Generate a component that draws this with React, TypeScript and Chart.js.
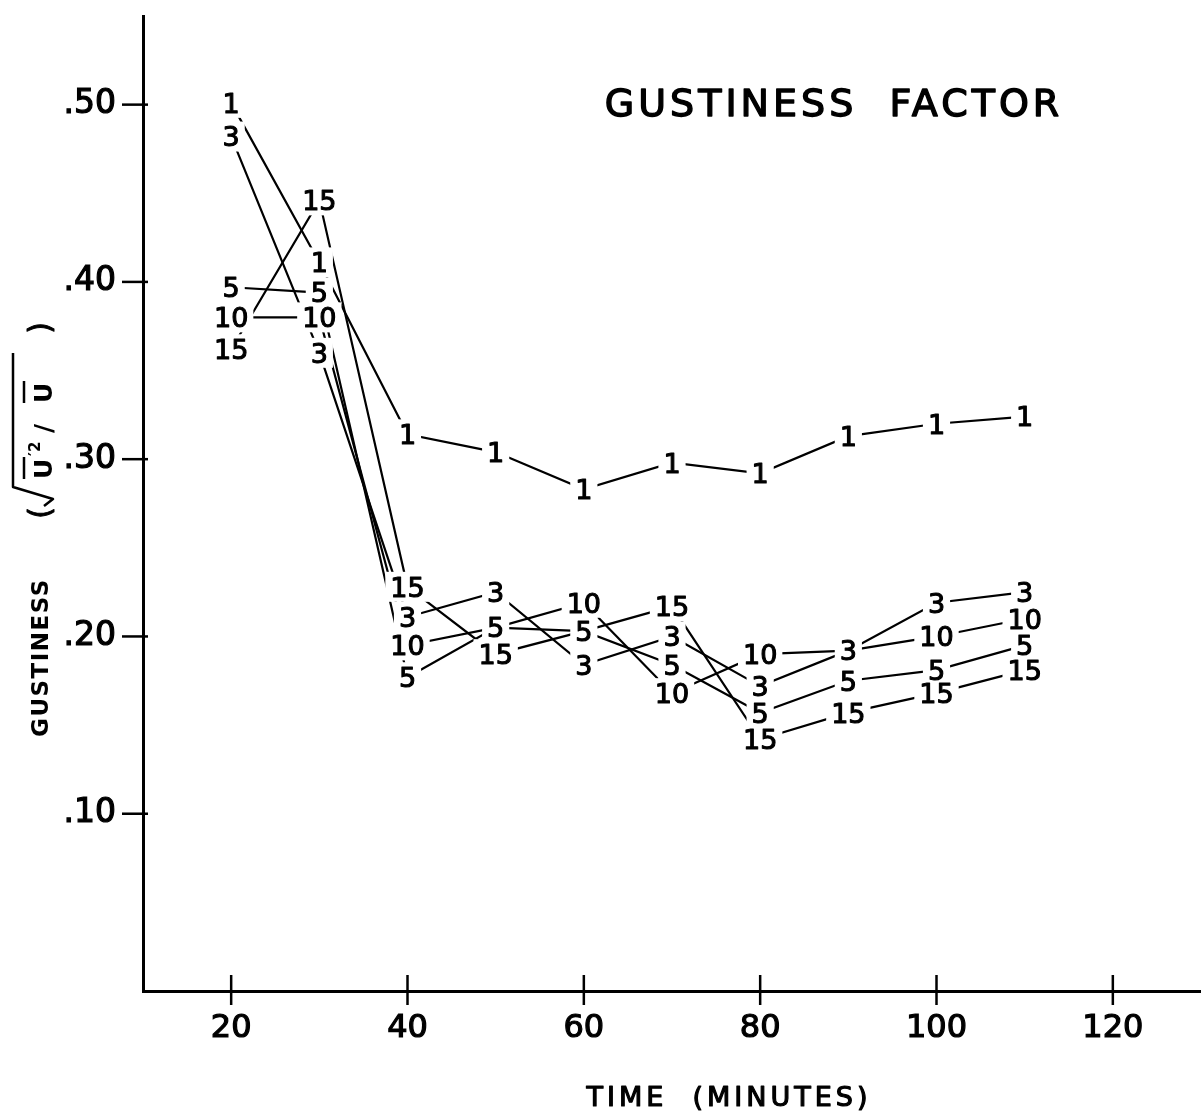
import React, { useEffect, useRef } from 'react';
import { Chart, registerables } from 'chart.js';

Chart.register(...registerables);

// ---- data ----
const times = [20, 30, 40, 50, 60, 70, 80, 90, 100, 110];
const seriesNames = ['1', '3', '5', '10', '15'];
const gust1 = [0.501, 0.411, 0.314, 0.304, 0.283, 0.298, 0.292, 0.313, 0.320, 0.324];
const gust3 = [0.482, 0.360, 0.211, 0.225, 0.184, 0.200, 0.172, 0.192, 0.219, 0.225];
const gust5 = [0.397, 0.394, 0.177, 0.205, 0.203, 0.184, 0.157, 0.175, 0.181, 0.195];
const gust10 = [0.380, 0.380, 0.195, 0.205, 0.219, 0.168, 0.190, 0.192, 0.200, 0.210];
const gust15 = [0.362, 0.446, 0.228, 0.190, 0.203, 0.217, 0.142, 0.157, 0.168, 0.181];
const seriesValues = [gust1, gust3, gust5, gust10, gust15];
// points whose number is hidden behind another series' number
const hiddenLabels: [string, number][] = [['10', 50], ['15', 60], ['10', 90]];

const xTicks = [20, 40, 60, 80, 100, 120];
const xTickLabels = ['20', '40', '60', '80', '100', '120'];
const yTicks = [0.1, 0.2, 0.3, 0.4, 0.5];
const yTickLabels = ['.10', '.20', '.30', '.40', '.50'];

const chartTitle = 'GUSTINESS  FACTOR';
const xTitle = 'TIME  (MINUTES)';
const yTitleWord = 'GUSTINESS';

const FONT = '"DejaVu Sans", sans-serif';

function heavyText(ctx: CanvasRenderingContext2D, t: string, x: number, y: number, w: number) {
  ctx.fillText(t, x, y);
  if (w > 0) {
    ctx.lineWidth = w;
    ctx.lineJoin = 'round';
    ctx.strokeText(t, x, y);
  }
}

const decorPlugin = {
  id: 'decor',
  afterDatasetsDraw(chart: any) {
    const ctx = chart.ctx as CanvasRenderingContext2D;
    ctx.save();
    // point-number labels
    const size = 27;
    ctx.font = `${size}px ${FONT}`;
    ctx.textAlign = 'center';
    ctx.textBaseline = 'alphabetic';
    const items: { x: number; y: number; t: string }[] = [];
    chart.data.datasets.forEach((ds: any, di: number) => {
      const meta = chart.getDatasetMeta(di);
      meta.data.forEach((pt: any, i: number) => {
        const t = times[i];
        if (hiddenLabels.some((h) => h[0] === ds.label && h[1] === t)) return;
        items.push({ x: pt.x, y: pt.y, t: ds.label });
      });
    });
    ctx.fillStyle = '#ffffff';
    items.forEach((it) => {
      const w = ctx.measureText(it.t).width;
      ctx.fillRect(it.x - w / 2 - 5, it.y - 15, w + 10, 30);
    });
    ctx.fillStyle = '#000000';
    ctx.strokeStyle = '#000000';
    items.forEach((it) => {
      heavyText(ctx, it.t, it.x, it.y + size * 0.365, 1.1);
    });
    ctx.restore();
  },
  afterDraw(chart: any) {
    const ctx = chart.ctx as CanvasRenderingContext2D;
    const { x, y } = chart.scales;
    const area = chart.chartArea;
    ctx.save();
    ctx.strokeStyle = '#000';
    ctx.lineWidth = 2.5;
    // cross tick marks
    yTicks.forEach((v) => {
      const py = y.getPixelForValue(v);
      ctx.beginPath();
      ctx.moveTo(area.left - 21, py);
      ctx.lineTo(area.left + 5, py);
      ctx.stroke();
    });
    xTicks.forEach((v) => {
      const px = x.getPixelForValue(v);
      ctx.beginPath();
      ctx.moveTo(px, area.bottom - 16);
      ctx.lineTo(px, area.bottom + 14);
      ctx.stroke();
    });

    ctx.fillStyle = '#000';
    // main title
    ctx.font = `38px ${FONT}`;
    (ctx as any).letterSpacing = '4px';
    ctx.textAlign = 'center';
    ctx.textBaseline = 'middle';
    heavyText(ctx, chartTitle, 834, 106, 1.4);

    // x title
    ctx.font = `27px ${FONT}`;
    (ctx as any).letterSpacing = '4px';
    heavyText(ctx, xTitle, 729, 1099, 1.2);

    // y title (rotated)
    ctx.translate(42, 737);
    ctx.rotate(-Math.PI / 2);
    ctx.font = `bold 23px ${FONT}`;
    (ctx as any).letterSpacing = '1.5px';
    ctx.textAlign = 'left';
    ctx.fillText(yTitleWord, 0, 0);
    (ctx as any).letterSpacing = '0px';
    ctx.font = `30px ${FONT}`;
    ctx.textAlign = 'center';
    heavyText(ctx, '(', 224, 0, 1);
    heavyText(ctx, ')', 409, 0, 1);
    // radical
    ctx.lineWidth = 2.5;
    ctx.beginPath();
    ctx.moveTo(231, 2);
    ctx.lineTo(238, 11);
    ctx.lineTo(250, -29);
    ctx.lineTo(384, -29);
    ctx.stroke();
    ctx.font = `bold 25px ${FONT}`;
    ctx.textAlign = 'left';
    ctx.fillText('U', 258, 3);
    ctx.fillText('/', 304, 3);
    ctx.fillText('U', 334, 3);
    ctx.font = `bold 15px ${FONT}`;
    ctx.fillText('\u20322', 281, -6);
    // over-bars
    ctx.lineWidth = 2.5;
    ctx.beginPath();
    ctx.moveTo(258, -18);
    ctx.lineTo(280, -18);
    ctx.moveTo(334, -18);
    ctx.lineTo(356, -18);
    ctx.stroke();
    ctx.restore();
  },
};

export default function App() {
  const ref = useRef<HTMLCanvasElement>(null);
  useEffect(() => {
    const canvas = ref.current!;
    const chart = new Chart(canvas, {
      type: 'line',
      data: {
        datasets: seriesNames.map((name, si) => ({
          label: name,
          data: times.map((t, i) => ({ x: t, y: seriesValues[si][i] })),
          borderColor: '#000',
          borderWidth: 2.2,
          pointRadius: 0,
          tension: 0,
          fill: false,
        })),
      },
      options: {
        responsive: false,
        animation: false,
        layout: { padding: { top: 16, left: 0, right: 0, bottom: 0 } },
        plugins: { legend: { display: false }, tooltip: { enabled: false }, title: { display: false } },
        scales: {
          x: {
            type: 'linear',
            min: 10,
            max: 130,
            afterBuildTicks: (s: any) => {
              s.ticks = xTicks.map((v) => ({ value: v }));
            },
            afterFit: (s: any) => {
              s.height = 124;
              s.paddingLeft = 0;
              s.paddingRight = 0;
            },
            ticks: {
              autoSkip: false,
              maxRotation: 0,
              padding: 18,
              color: '#000',
              textStrokeColor: '#000',
              textStrokeWidth: 1.2,
              font: { family: FONT, size: 32 },
              callback: (_v: any, i: number) => xTickLabels[i],
            },
            grid: { display: false, drawTicks: false },
            border: { display: true, color: '#000', width: 3 },
          },
          y: {
            type: 'linear',
            min: 0,
            max: 0.55,
            afterBuildTicks: (s: any) => {
              s.ticks = yTicks.map((v) => ({ value: v }));
            },
            afterFit: (s: any) => {
              s.width = 143;
              s.paddingTop = 0;
              s.paddingBottom = 0;
            },
            ticks: {
              padding: 27,
              color: '#000',
              textStrokeColor: '#000',
              textStrokeWidth: 1.2,
              font: { family: FONT, size: 33 },
              callback: (_v: any, i: number) => yTickLabels[i],
            },
            grid: { display: false, drawTicks: false },
            border: { display: true, color: '#000', width: 3 },
          },
        },
      },
      plugins: [decorPlugin],
    });
    return () => chart.destroy();
  }, []);
  return (
    <div style={{ position: 'absolute', left: 0, top: 0, width: 1201, height: 1115, background: '#fff' }}>
      <canvas ref={ref} width={1201} height={1115} style={{ width: 1201, height: 1115, display: 'block' }} />
    </div>
  );
}
